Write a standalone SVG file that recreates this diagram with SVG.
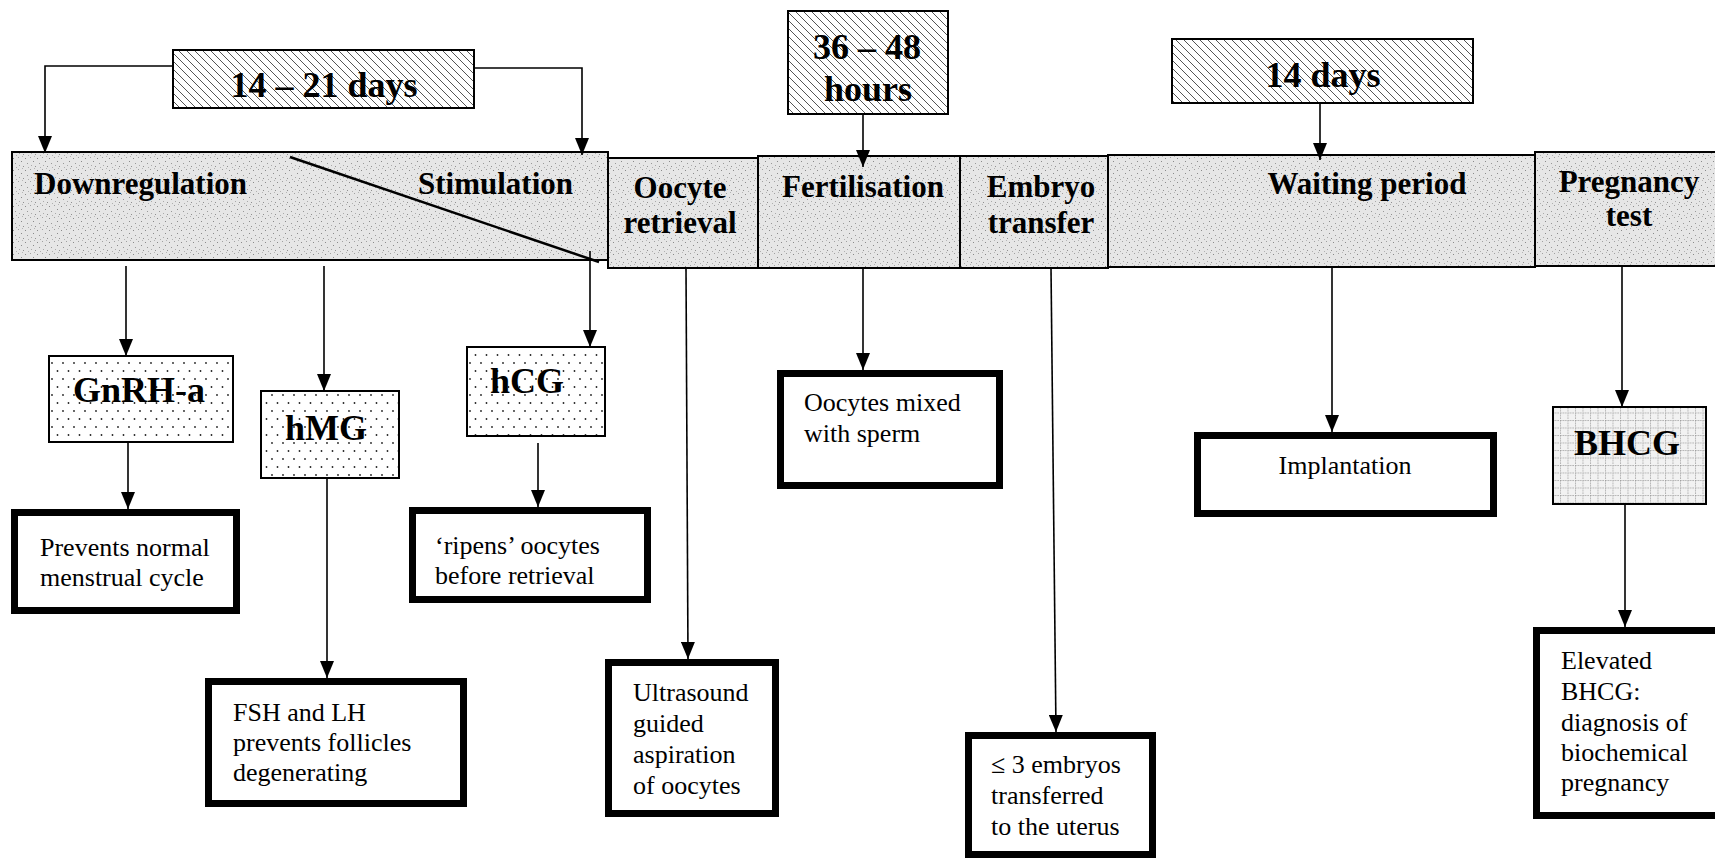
<svg xmlns="http://www.w3.org/2000/svg" width="1715" height="860" viewBox="0 0 1715 860">
<defs>
<pattern id="hatch" patternUnits="userSpaceOnUse" width="8" height="8">
<rect width="8" height="8" fill="#ffffff"/>
<path d="M0,0 L8,8 M-2,6 L2,10 M6,-2 L10,2" stroke="#555" stroke-width="1"/>
</pattern>
<pattern id="speck" patternUnits="userSpaceOnUse" width="12" height="12">
<rect width="12" height="12" fill="#e6e6e6"/>
<rect x="1" y="2" width="1" height="1" fill="#8a8a8a"/>
<rect x="6" y="1" width="1" height="1" fill="#a0a0a0"/>
<rect x="9" y="5" width="1" height="1" fill="#8a8a8a"/>
<rect x="3" y="7" width="1" height="1" fill="#999"/>
<rect x="7" y="9" width="1" height="1" fill="#aaa"/>
<rect x="11" y="10" width="1" height="1" fill="#909090"/>
<rect x="4" y="11" width="1" height="1" fill="#b0b0b0"/>
<rect x="10" y="0" width="1" height="1" fill="#b5b5b5"/>
</pattern>
<pattern id="dots" patternUnits="userSpaceOnUse" width="11" height="16">
<rect width="11" height="16" fill="#ffffff"/>
<circle cx="2.5" cy="3" r="0.9" fill="#222"/>
<circle cx="8" cy="11" r="0.9" fill="#222"/>
</pattern>
<pattern id="grid" patternUnits="userSpaceOnUse" width="7.5" height="7.5">
<rect width="7.5" height="7.5" fill="#f2f2f2"/>
<path d="M0,0.5 H7.5 M0.5,0 V7.5" stroke="#9a9a9a" stroke-width="0.8" stroke-dasharray="1.5,1"/>
</pattern>
<marker id="arr" markerUnits="userSpaceOnUse" markerWidth="17" markerHeight="14" viewBox="0 0 17 14" refX="17" refY="7" orient="auto">
<path d="M0,0 L17,7 L0,14 z" fill="#000"/>
</marker>
</defs>
<style>
.stage{fill:url(#speck);stroke:#000;stroke-width:2}
.time{fill:url(#hatch);stroke:#000;stroke-width:2}
.drug{fill:url(#dots);stroke:#000;stroke-width:2}
.res{fill:#fff;stroke:#000;stroke-width:7}
.hb{font-family:"Liberation Serif","Times New Roman",serif;font-weight:bold;font-size:31px;fill:#000}
.tb{font-family:"Liberation Serif","Times New Roman",serif;font-weight:bold;font-size:36px;fill:#000}
.db{font-family:"Liberation Serif","Times New Roman",serif;font-weight:bold;font-size:36px;fill:#000}
.rt{font-family:"Liberation Serif","Times New Roman",serif;font-size:26px;fill:#000}
.ln{fill:none;stroke:#000;stroke-width:1.6}
.c{text-anchor:middle}
</style>
<rect width="1715" height="860" fill="#fff"/>

<g id="downreg-stim">
<rect class="stage" x="12" y="152" width="596" height="108"/>
<line x1="290" y1="157" x2="599" y2="262" stroke="#000" stroke-width="2.5"/>
<text class="hb" x="34" y="194">Downregulation</text>
<text class="hb" x="418" y="194">Stimulation</text>
</g>
<g id="oocyte-retrieval">
<rect class="stage" x="608" y="158" width="150" height="110"/>
<text class="hb c" x="680" y="198">Oocyte</text>
<text class="hb c" x="680" y="233">retrieval</text>
</g>
<g id="fertilisation">
<rect class="stage" x="758" y="156" width="202" height="112"/>
<text class="hb c" x="863" y="197">Fertilisation</text>
</g>
<g id="embryo-transfer">
<rect class="stage" x="960" y="156" width="148" height="112"/>
<text class="hb c" x="1041" y="197">Embryo</text>
<text class="hb c" x="1041" y="233">transfer</text>
</g>
<g id="waiting">
<rect class="stage" x="1108" y="155" width="427" height="112"/>
<text class="hb c" x="1367" y="194">Waiting period</text>
</g>
<g id="pregnancy-test">
<rect class="stage" x="1535" y="152" width="190" height="114"/>
<text class="hb c" x="1629" y="192">Pregnancy</text>
<text class="hb c" x="1629" y="226">test</text>
</g>

<g id="t-14-21">
<rect class="time" x="173" y="50" width="301" height="58"/>
<text class="tb c" x="324" y="97">14 – 21 days</text>
</g>
<g id="t-36-48">
<rect class="time" x="788" y="11" width="160" height="103"/>
<text class="tb c" x="867" y="59">36 – 48</text>
<text class="tb c" x="868" y="101">hours</text>
</g>
<g id="t-14">
<rect class="time" x="1172" y="39" width="301" height="64"/>
<text class="tb c" x="1323" y="87">14 days</text>
</g>

<g id="gnrh">
<rect class="drug" x="49" y="356" width="184" height="86"/>
<text class="db c" x="139" y="402">GnRH-a</text>
</g>
<g id="hmg">
<rect class="drug" x="261" y="391" width="138" height="87"/>
<text class="db c" x="326" y="440">hMG</text>
</g>
<g id="hcg">
<rect class="drug" x="467" y="347" width="138" height="89"/>
<text class="db c" x="527" y="393">hCG</text>
</g>
<g id="bhcg">
<rect x="1553" y="407" width="153" height="97" fill="url(#grid)" stroke="#000" stroke-width="2"/>
<text class="db c" x="1627" y="455">BHCG</text>
</g>

<g id="r-prevents">
<rect class="res" x="14.5" y="512.5" width="222" height="98"/>
<text class="rt" x="40" y="556">Prevents normal</text>
<text class="rt" x="40" y="586">menstrual cycle</text>
</g>
<g id="r-ripens">
<rect class="res" x="412.5" y="510.5" width="235" height="89"/>
<text class="rt" x="435" y="554">‘ripens’ oocytes</text>
<text class="rt" x="435" y="584">before retrieval</text>
</g>
<g id="r-fsh">
<rect class="res" x="208.5" y="681.5" width="255" height="122"/>
<text class="rt" x="233" y="721">FSH and LH</text>
<text class="rt" x="233" y="751">prevents follicles</text>
<text class="rt" x="233" y="781">degenerating</text>
</g>
<g id="r-ultrasound">
<rect class="res" x="608.5" y="662.5" width="167" height="151"/>
<text class="rt" x="633" y="701">Ultrasound</text>
<text class="rt" x="633" y="732">guided</text>
<text class="rt" x="633" y="763">aspiration</text>
<text class="rt" x="633" y="794">of oocytes</text>
</g>
<g id="r-mixed">
<rect class="res" x="780.5" y="373.5" width="219" height="112"/>
<text class="rt" x="804" y="411">Oocytes mixed</text>
<text class="rt" x="804" y="442">with sperm</text>
</g>
<g id="r-embryos">
<rect class="res" x="968.5" y="735.5" width="184" height="119"/>
<text class="rt" x="991" y="773">≤ 3 embryos</text>
<text class="rt" x="991" y="804">transferred</text>
<text class="rt" x="991" y="835">to the uterus</text>
</g>
<g id="r-implantation">
<rect class="res" x="1197.5" y="435.5" width="296" height="78"/>
<text class="rt c" x="1345" y="474">Implantation</text>
</g>
<g id="r-elevated">
<rect class="res" x="1536.5" y="630.5" width="200" height="185"/>
<text class="rt" x="1561" y="669">Elevated</text>
<text class="rt" x="1561" y="700">BHCG:</text>
<text class="rt" x="1561" y="731">diagnosis of</text>
<text class="rt" x="1561" y="761">biochemical</text>
<text class="rt" x="1561" y="791">pregnancy</text>
</g>

<g id="connectors">
<path class="ln" d="M173,66 H45 V153" marker-end="url(#arr)"/>
<path class="ln" d="M474,68 H582 V155" marker-end="url(#arr)"/>
<path class="ln" d="M863,114 V167" marker-end="url(#arr)"/>
<path class="ln" d="M1320,103 V160" marker-end="url(#arr)"/>
<path class="ln" d="M126,266 V356" marker-end="url(#arr)"/>
<path class="ln" d="M128,442 V509" marker-end="url(#arr)"/>
<path class="ln" d="M324,266 V391" marker-end="url(#arr)"/>
<path class="ln" d="M327,478 V678" marker-end="url(#arr)"/>
<path class="ln" d="M590,251 V347" marker-end="url(#arr)"/>
<path class="ln" d="M538,443 V507" marker-end="url(#arr)"/>
<path class="ln" d="M686,268 L688,659" marker-end="url(#arr)"/>
<path class="ln" d="M863,268 V370" marker-end="url(#arr)"/>
<path class="ln" d="M1051,268 L1056,732" marker-end="url(#arr)"/>
<path class="ln" d="M1332,267 V432" marker-end="url(#arr)"/>
<path class="ln" d="M1622,266 V407" marker-end="url(#arr)"/>
<path class="ln" d="M1625,504 V627" marker-end="url(#arr)"/>
</g>
</svg>
